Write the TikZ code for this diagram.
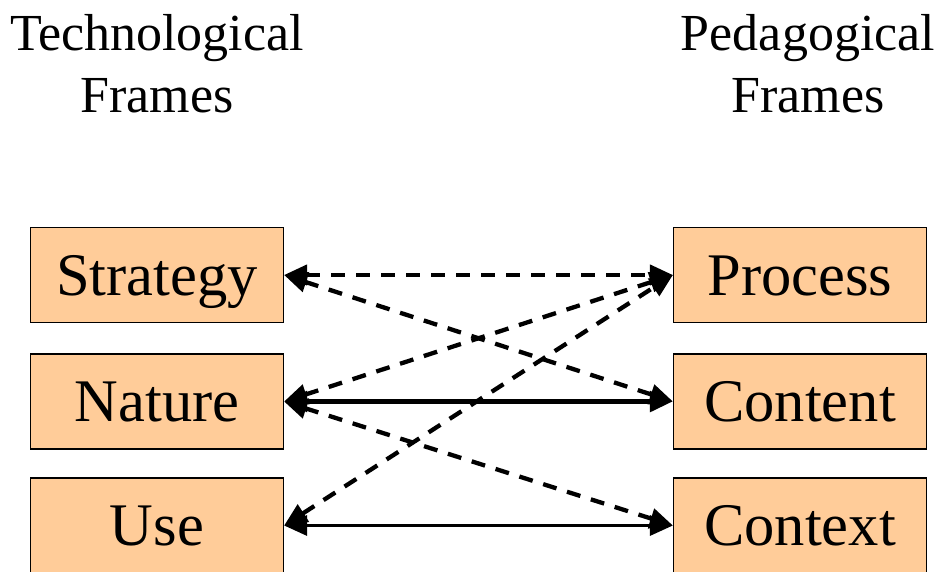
\documentclass[tikz,border=0pt]{standalone}
\usepackage{fontspec}
\setmainfont{Liberation Serif}
\usepackage{tikz}
\usepackage{xcolor}
\usetikzlibrary{arrows.meta}

\definecolor{framefill}{RGB}{255,204,153}

\tikzset{
	framebox/.style={draw=black, line width=1.2pt, fill=framefill,
		minimum width=253pt, minimum height=95pt, inner sep=0pt,
		text height=44pt, text depth=4pt,
		font=\fontsize{60.5}{60.5}\selectfont},
	headtext/.style={align=center, anchor=north, inner sep=0pt,
		font=\fontsize{52}{62}\selectfont},
	tipboth/.style={{Triangle[length=23pt,width=20pt]}-{Triangle[length=23pt,width=20pt]}},
	dashlink/.style={tipboth, line width=4.3pt, dash pattern=on 14pt off 11pt},
}

\begin{document}
\begin{tikzpicture}[x=1pt,y=-1pt]
		\useasboundingbox (0,0) rectangle (942,572);
		\begin{scope}
			% headings
			\node[headtext] (techhead) at (157,14) {Technological\\Frames};
			\node[headtext] (pedahead) at (808,14) {Pedagogical\\Frames};

			% technological frames
			\node[framebox] (strategy) at (157,275)   {Strategy};
			\node[framebox] (nature)   at (157,401.5) {Nature};
			\node[framebox] (use)      at (157,525.5) {Use};

			% pedagogical frames
			\node[framebox] (process) at (800,275)   {Process};
			\node[framebox] (content) at (800,401.5) {Content};
			\node[framebox] (context) at (800,525.5) {Context};

			\draw[dashlink] (strategy.east) -- (process.west);
			\draw[dashlink] (strategy.east) -- (content.west);
			\draw[dashlink] (nature.east) -- (process.west);
			\draw[tipboth, line width=5.5pt] (nature.east) -- (content.west);
			\draw[dashlink] (nature.east) -- (context.west);
			\draw[dashlink] (use.east) -- (process.west);
			\draw[tipboth, line width=3.2pt] (use.east) -- (context.west);
		\end{scope}
	\end{tikzpicture}
\end{document}
